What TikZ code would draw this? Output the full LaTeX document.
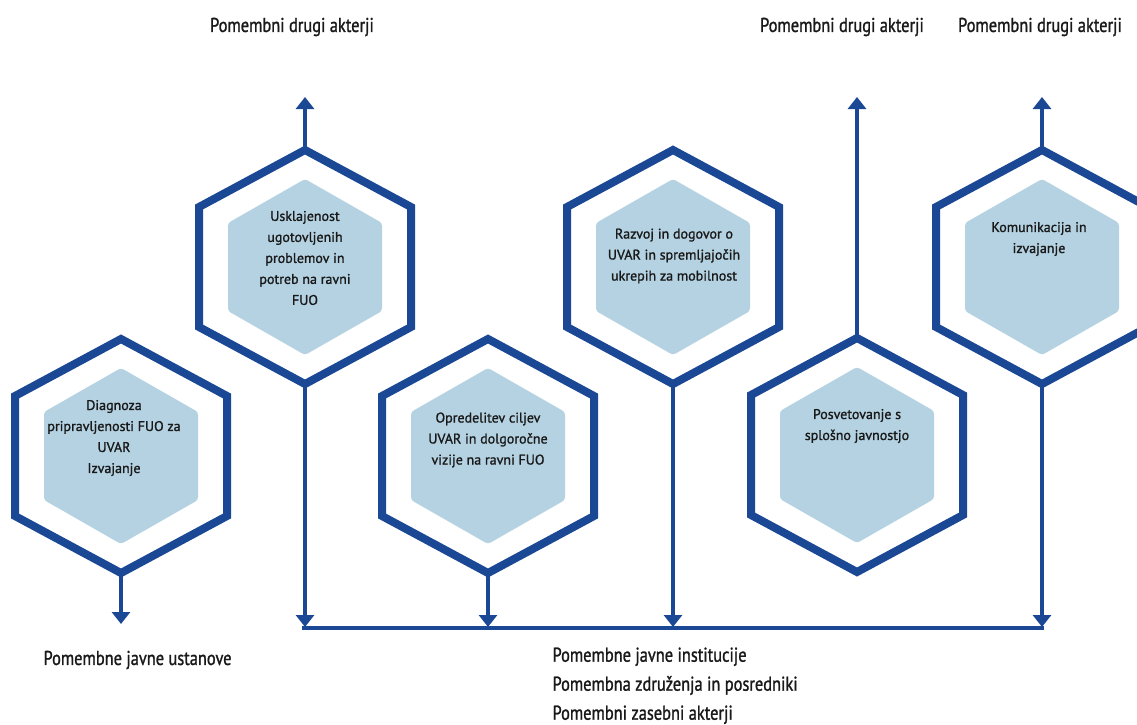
\documentclass[tikz,border=0pt]{standalone}
\usepackage{fontspec}
\setmainfont{PT Sans}[FakeBold=1.2]
\newfontfamily\cellfont[FakeBold=1.2]{PT Sans}
\newfontfamily\actorfont[FakeStretch=0.82,FakeBold=1.2]{PT Sans}
\usetikzlibrary{arrows.meta}
\definecolor{hexblue}{RGB}{27,72,148}
\definecolor{hexfill}{RGB}{180,210,226}
\definecolor{txtgray}{RGB}{25,25,25}
\tikzset{
  hexline/.style={draw=hexblue, line width=8pt, line join=miter},
  hexcore/.style={fill=hexfill, rounded corners=3pt},
  flow/.style={draw=hexblue, line width=4.5pt, -{Triangle[width=18pt,length=12pt]}},
  bus/.style={draw=hexblue, line width=4.5pt},
  celltext/.style={align=center, font=\cellfont\fontsize{14}{21}\selectfont, text=txtgray},
  actor/.style={font=\actorfont\fontsize{20}{29}\selectfont, text=txtgray, align=left}
}
% one cell: name, centre x, centre y
\newcommand{\hexcell}[3]{%
  \fill[hexcore] (#2,#3) ++(0,-88) -- ++(77,44) -- ++(0,88) -- ++(-77,44) -- ++(-77,-44) -- ++(0,-88) -- cycle;
  \draw[hexline] (#2,#3) ++(0,-117) -- ++(106,57) -- ++(0,120) -- ++(-106,57) -- ++(-106,-57) -- ++(0,-120) -- cycle;
  \coordinate (#1-top) at (#2,#3-117);
  \coordinate (#1-bot) at (#2,#3+117);
}
\begin{document}
\begin{tikzpicture}[x=1pt,y=-1pt]
\useasboundingbox[fill=white] (0,0) rectangle (1137,725);
\clip (0,0) rectangle (1137,725);
% Cells
\hexcell{h1}{121}{456}
\hexcell{h2}{305}{267}
\hexcell{h3}{488}{456}
\hexcell{h4}{673}{267}
\hexcell{h5}{857}{455}
\hexcell{h6}{1042}{267}

\node[celltext] (t1) at (114,438) {Diagnoza\\pripravljenosti FUO za\\UVAR\\Izvajanje};
\node[celltext] (t2) at (305,258) {Usklajenost\\ugotovljenih\\problemov in\\potreb na ravni\\FUO};
\node[celltext] (t3) at (488,440) {Opredelitev ciljev\\UVAR in dolgoročne\\vizije na ravni FUO};
\node[celltext] (t4) at (674,256) {Razvoj in dogovor o\\UVAR in spremljajočih\\ukrepih za mobilnost};
\node[celltext] (t5) at (857,426) {Posvetovanje s\\splošno javnostjo};
\node[celltext] (t6) at (1039,239) {Komunikacija in\\izvajanje};

% Arrows up
\coordinate (h2-up) at (305,97);
\coordinate (h5-up) at (857,97);
\coordinate (h6-up) at (1042,97);
\draw[flow] (h2-top) -- (h2-up);
\draw[flow] (h5-top) -- (h5-up);
\draw[flow] (h6-top) -- (h6-up);

% Arrows down
\coordinate (h1-down) at (121,624);
\coordinate (h2-down) at (305,627);
\coordinate (h3-down) at (488,627);
\coordinate (h4-down) at (673,627);
\coordinate (h6-down) at (1042,627);
\draw[flow] (h1-bot) -- (h1-down);
\draw[flow] (h2-bot) -- (h2-down);
\draw[flow] (h3-bot) -- (h3-down);
\draw[flow] (h4-bot) -- (h4-down);
\draw[flow] (h6-bot) -- (h6-down);
\coordinate (bus-w) at (302,628);
\coordinate (bus-e) at (1044,628);
\draw[bus] (bus-w) -- (bus-e);

% Actors
\node[actor] (a1) at (292,27) {Pomembni drugi akterji};
\node[actor] (a2) at (842,27) {Pomembni drugi akterji};
\node[actor] (a3) at (1040,27) {Pomembni drugi akterji};
\node[actor,anchor=west] (a4) at (40,660) {Pomembne javne ustanove};
\node[actor,anchor=north west] (a5) at (549,644) {Pomembne javne institucije\\Pomembna združenja in posredniki\\Pomembni zasebni akterji};
\end{tikzpicture}
\end{document}
